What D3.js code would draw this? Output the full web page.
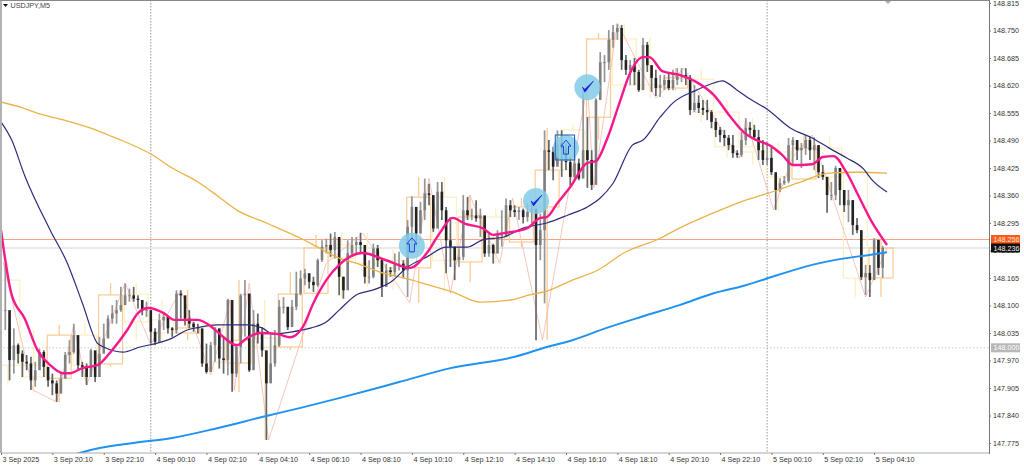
<!DOCTYPE html>
<html><head><meta charset="utf-8">
<script src="https://cdnjs.cloudflare.com/ajax/libs/d3/7.8.5/d3.min.js"></script>
<style>html,body{margin:0;background:#fff;overflow:hidden}text{font-family:"Liberation Sans",Arial,sans-serif}</style>
</head><body><div id="c"></div>
<script>
const symbolTitle="USDJPY,M5";
const priceTicks=[148.815,148.750,148.685,148.620,148.555,148.490,148.425,148.360,148.295,148.230,148.165,148.100,148.035,147.970,147.905,147.840,147.775];
const timeTickBars=[0,24,48,72,96,120,144,168,192,216,240,264,288,312,336,360,384,408];
const timeTickLabels=["3 Sep 2025","3 Sep 20:10","3 Sep 22:10","4 Sep 00:10","4 Sep 02:10","4 Sep 04:10","4 Sep 06:10","4 Sep 08:10","4 Sep 10:10","4 Sep 12:10","4 Sep 14:10","4 Sep 16:10","4 Sep 18:10","4 Sep 20:10","4 Sep 22:10","5 Sep 00:10","5 Sep 02:10","5 Sep 04:10"];
const dayBreakBars=[70,358];
// sampled M5 candles, every second bar
const candleClose=[148.089,148.089,147.971,148.006,147.986,147.967,147.963,147.923,147.947,147.990,147.955,147.923,147.916,147.892,147.927,147.983,147.990,148.030,147.959,147.955,147.931,147.994,147.931,147.986,148.022,148.069,148.081,148.089,148.101,148.124,148.124,148.116,148.113,148.089,148.089,148.038,148.014,148.065,148.073,148.046,148.042,148.128,148.124,148.069,148.057,148.049,148.046,147.963,147.943,148.006,148.046,147.975,147.971,148.113,147.939,148.002,148.124,148.128,147.947,148.057,148.034,147.994,147.916,147.963,148.006,148.097,148.097,148.049,148.097,148.128,148.164,148.176,148.156,148.148,148.207,148.239,148.243,148.231,148.262,
148.168,148.136,148.223,148.243,148.250,148.243,148.168,148.168,148.235,148.207,148.144,148.183,148.179,148.199,148.199,148.183,148.286,148.333,148.270,148.325,148.365,148.361,148.282,148.369,148.325,148.254,148.239,148.207,148.215,148.325,148.313,148.313,148.306,148.313,148.223,148.243,148.223,148.266,148.266,148.337,148.325,148.321,148.325,148.309,148.321,148.329,148.243,148.278,148.467,148.463,148.428,148.483,148.471,148.439,148.404,148.436,148.400,148.467,
148.444,148.385,148.586,148.675,148.675,148.728,148.746,148.756,148.680,148.657,148.668,148.652,148.609,148.716,148.668,148.638,148.614,148.621,148.633,148.614,148.633,148.642,148.645,148.638,148.562,148.579,148.567,148.562,148.557,148.534,148.515,148.503,148.496,148.479,148.460,148.456,148.491,148.520,148.515,148.498,148.467,148.444,148.449,148.415,148.373,148.389,148.394,148.479,148.491,148.467,148.472,148.491,148.467,148.479,148.415,148.404,148.361,148.361,148.425,148.373,148.337,148.349,148.290,148.278,148.167,148.177,148.160,148.255,148.189,148.236];
const candleHigh=[148.199,148.199,148.049,148.046,148.010,147.994,147.983,147.979,147.967,147.998,147.994,147.943,147.939,147.923,147.939,147.990,148.018,148.057,148.002,147.967,147.963,147.998,147.959,148.026,148.057,148.077,148.101,148.113,148.144,148.152,148.140,148.144,148.124,148.101,148.109,148.081,148.046,148.081,148.085,148.073,148.049,148.136,148.136,148.093,148.089,148.061,148.057,148.042,148.010,148.014,148.049,148.034,148.026,148.116,148.113,148.010,148.128,148.160,148.128,148.089,148.081,148.049,147.986,148.034,148.042,148.113,148.120,148.089,148.113,148.180,148.183,148.187,148.176,148.168,148.211,148.254,148.258,148.270,148.274,
148.223,148.168,148.254,148.262,148.262,148.272,148.231,148.207,148.246,148.243,148.211,148.199,148.191,148.223,148.227,148.207,148.302,148.358,148.317,148.345,148.400,148.388,148.341,148.392,148.392,148.333,148.309,148.239,148.235,148.361,148.357,148.329,148.349,148.329,148.309,148.270,148.246,148.278,148.325,148.353,148.349,148.337,148.333,148.329,148.341,148.345,148.302,148.317,148.514,148.491,148.475,148.514,148.514,148.483,148.451,148.455,148.447,148.609,
148.545,148.467,148.590,148.699,148.692,148.751,148.763,148.765,148.763,148.692,148.680,148.685,148.657,148.732,148.723,148.668,148.657,148.645,148.645,148.652,148.657,148.661,148.661,148.661,148.645,148.621,148.597,148.586,148.586,148.562,148.543,148.522,148.515,148.503,148.503,148.467,148.510,148.543,148.534,148.527,148.515,148.491,148.486,148.479,148.408,148.401,148.406,148.496,148.498,148.491,148.484,148.503,148.498,148.498,148.479,148.432,148.404,148.392,148.430,148.425,148.373,148.373,148.349,148.307,148.278,148.196,148.196,148.259,148.255,148.241];
const candleLow=[148.002,148.042,147.923,147.939,147.963,147.931,147.947,147.900,147.908,147.963,147.931,147.908,147.888,147.872,147.892,147.927,147.963,147.986,147.947,147.931,147.912,147.939,147.919,147.955,148.010,148.034,148.057,148.057,148.085,148.101,148.109,148.109,148.093,148.077,148.073,148.010,148.006,148.034,148.042,148.034,148.026,148.034,148.069,148.053,148.046,148.038,148.034,147.955,147.939,147.963,147.967,147.951,147.939,147.935,147.896,147.931,147.963,148.026,147.943,148.002,148.010,147.979,147.782,147.923,147.955,148.002,148.081,148.042,148.057,148.089,148.124,148.148,148.140,148.132,148.144,148.203,148.223,148.215,148.211,
148.124,148.116,148.168,148.215,148.223,148.223,148.152,148.152,148.164,148.191,148.120,148.152,148.168,148.168,148.183,148.164,148.120,148.223,148.239,148.286,148.302,148.337,148.274,148.302,148.302,148.176,148.191,148.160,148.191,148.207,148.302,148.302,148.298,148.262,148.215,148.215,148.199,148.223,148.239,148.262,148.309,148.309,148.302,148.294,148.298,148.294,148.018,148.207,148.105,148.420,148.396,148.436,148.404,148.420,148.384,148.396,148.396,148.420,
148.378,148.373,148.420,148.586,148.628,148.657,148.709,148.728,148.657,148.645,148.621,148.621,148.605,148.614,148.652,148.605,148.595,148.593,148.609,148.609,148.609,148.621,148.628,148.621,148.550,148.557,148.555,148.550,148.538,148.519,148.498,148.486,148.477,148.467,148.449,148.449,148.451,148.479,148.498,148.491,148.444,148.432,148.432,148.408,148.326,148.368,148.385,148.389,148.432,148.444,148.425,148.456,148.444,148.420,148.401,148.397,148.319,148.349,148.349,148.337,148.321,148.297,148.267,148.271,148.160,148.125,148.120,148.184,148.172,148.165];
// moving averages: bar index and price
const pinkBars=[0,5,11,17,23,29,32,38,45,52,59,64,69,76,81,92,99,104,110,115,121,129,135,141,146,152,158,169,180,191,199,205,211,217,225,230,235,246,252,255,260,266,274,278,283,289,294,300,303,309,317,325,333,341,347,353,359,365,370,379,384,389,395,401,407,414];
const pinkVals=[148.278,148.125,148.070,147.995,147.959,147.940,147.940,147.952,147.959,147.995,148.042,148.082,148.094,148.082,148.066,148.066,148.047,148.025,148.006,148.023,148.035,148.033,148.025,148.049,148.106,148.160,148.196,148.224,148.207,148.189,148.224,148.271,148.307,148.293,148.283,148.267,148.271,148.283,148.307,148.309,148.342,148.380,148.437,148.441,148.491,148.579,148.650,148.687,148.687,148.654,148.645,148.628,148.598,148.545,148.510,148.491,148.479,148.456,148.432,148.434,148.451,148.453,148.415,148.356,148.297,148.243];
const navyBars=[0,5,11,23,31,38,45,48,57,65,73,80,87,93,101,115,122,127,135,145,152,158,166,174,182,190,199,208,218,225,235,244,255,265,274,280,286,295,300,308,314,325,333,337,344,350,358,369,379,387,395,403,407,414];
const navyVals=[148.534,148.491,148.408,148.278,148.200,148.106,148.011,148.002,147.990,148.002,148.011,148.023,148.042,148.049,148.054,148.054,148.047,148.033,148.037,148.047,148.061,148.089,148.125,148.137,148.155,148.191,148.215,148.238,148.238,148.255,148.262,148.283,148.295,148.314,148.333,148.354,148.389,148.479,148.491,148.545,148.579,148.609,148.626,148.631,148.609,148.588,148.564,148.519,148.496,148.472,148.449,148.423,148.397,148.368];
const goldBars=[0,9,18,31,42,50,56,70,80,92,102,110,124,140,148,158,166,177,190,200,211,224,238,247,255,267,279,291,308,317,333,348,363,372,387,400,414];
const goldVals=[148.581,148.569,148.553,148.536,148.519,148.503,148.491,148.458,148.425,148.392,148.356,148.326,148.295,148.259,148.238,148.212,148.200,148.179,148.163,148.148,148.132,148.108,148.113,148.125,148.134,148.160,148.184,148.224,148.259,148.283,148.319,148.349,148.373,148.389,148.413,148.415,148.413];
const blueBars=[35,46,62,80,101,124,140,158,186,210,241,255,267,283,299,317,333,348,363,379,395,405,414];
const blueVals=[147.749,147.763,147.775,147.787,147.810,147.839,147.858,147.881,147.919,147.952,147.980,148.002,148.018,148.047,148.073,148.101,148.129,148.148,148.172,148.196,148.212,148.219,148.226];
// zigzag swing points
const zigBars=[1,15,26,34,40,58,70,84,98,107,109,116,125,152,169,191,200,210,219,233,239,253,274,277,288,306,319,345,348,361,370,379,404,414];
const zigVals=[148.203,147.900,147.872,148.054,147.912,148.153,148.007,148.137,147.936,148.113,147.900,148.153,147.782,148.200,148.271,148.106,148.401,148.129,148.361,148.200,148.354,148.018,148.621,148.378,148.768,148.590,148.661,148.448,148.541,148.326,148.451,148.503,148.120,148.236];
// hourly candles overlaid as outlines
const hourOpen=[148.160,147.959,147.928,148.030,147.962,148.127,148.066,148.035,148.049,147.964,148.023,148.002,148.129,148.243,148.226,148.207,148.189,148.356,148.203,148.309,148.250,148.333,148.515,148.545,148.730,148.621,148.614,148.635,148.557,148.475,148.463,148.399,148.472,148.415,148.165];
const hourClose=[147.959,147.931,148.030,147.959,148.125,148.061,148.035,148.047,147.966,148.018,148.002,148.127,148.236,148.212,148.200,148.189,148.356,148.207,148.309,148.262,148.333,148.420,148.420,148.730,148.621,148.614,148.638,148.557,148.475,148.463,148.404,148.472,148.404,148.165,148.236];
const hourHigh=[148.203,148.042,148.054,148.059,148.153,148.153,148.113,148.137,148.066,148.160,148.113,148.179,148.267,148.274,148.271,148.236,148.404,148.404,148.361,148.330,148.354,148.520,148.527,148.744,148.768,148.732,148.661,148.661,148.586,148.543,148.486,148.503,148.498,148.415,148.255];
const hourLow=[147.912,147.895,147.872,147.924,147.955,148.018,148.007,148.018,147.943,147.895,147.782,147.995,148.127,148.118,148.144,148.137,148.106,148.129,148.155,148.196,148.238,148.018,148.373,148.491,148.609,148.590,148.609,148.534,148.449,148.432,148.326,148.397,148.368,148.120,148.120];
const markerBars=[192,250,274,264];
const markerPrices=[148.241,148.347,148.616,148.472];
const markerKinds=["arrow","check","check","arrow"];
const boxBars=[259,268];
const boxPrices=[148.503,148.444];
const askPrice=148.256,bidPrice=148.236,levelPrice=148.000,lastBar=414;

const W=1024,H=466,axisX=989,bottomY=453;
const x=d3.scaleLinear().domain([0,414]).range([1,887]);
const y=d3.scaleLinear().domain([147.775,148.815]).range([443,3]);
const svg=d3.select("#c").append("svg").attr("width",W).attr("height",H).style("display","block");
svg.append("defs").append("clipPath").attr("id","plot").append("rect").attr("x",2).attr("y",1).attr("width",axisX-2).attr("height",bottomY-1);
const plot=svg.append("g").attr("clip-path","url(#plot)");

dayBreakBars.forEach(b=>plot.append("line").attr("x1",x(b)).attr("x2",x(b)).attr("y1",0).attr("y2",bottomY).attr("stroke","#999").attr("stroke-dasharray","1.5,1.5"));
plot.append("line").attr("x1",0).attr("x2",axisX).attr("y1",y(levelPrice)).attr("y2",y(levelPrice)).attr("stroke","#c8c8c8").attr("stroke-dasharray","1.5,2");
plot.append("line").attr("x1",0).attr("x2",axisX).attr("y1",y(bidPrice)).attr("y2",y(bidPrice)).attr("stroke","#e9e9e9").attr("stroke-width",2);
plot.append("line").attr("x1",0).attr("x2",axisX).attr("y1",y(askPrice)).attr("y2",y(askPrice)).attr("stroke","#f4a484");

const hourStart=k=>k*12-2.4, hourW=11.2;
const hc=(o,c)=>c>=o?"#fbcb94":"#fdefc2";
hourOpen.forEach((o,k)=>{
  const c=hourClose[k],col=hc(o,c);
  const xm=x(hourStart(k)+hourW/2);
  plot.append("line").attr("x1",xm).attr("x2",xm).attr("y1",y(hourHigh[k])).attr("y2",y(Math.max(o,c))).attr("stroke",col).attr("stroke-width",1.3);
  plot.append("line").attr("x1",xm).attr("x2",xm).attr("y1",y(Math.min(o,c))).attr("y2",y(hourLow[k])).attr("stroke",col).attr("stroke-width",1.3);
  plot.append("rect").attr("x",x(hourStart(k))).attr("width",x(hourW)-x(0)).attr("y",y(Math.max(o,c))).attr("height",Math.abs(y(o)-y(c))).attr("fill","none").attr("stroke",col).attr("stroke-width",1.2);
});

const line=(bars,vals,curve)=>d3.line().x((d,i)=>x(bars[i])).y(d=>y(d)).curve(curve)(vals);
plot.append("path").attr("d",line(zigBars,zigVals,d3.curveLinear)).attr("fill","none").attr("stroke","#f4b8ac").attr("stroke-width",.8);

const candles=plot.append("g");
candleClose.forEach((c,j)=>{
  const o=j?candleClose[j-1]:c, bx=x(j*2), bear=c<o;
  candles.append("line").attr("x1",bx).attr("x2",bx).attr("y1",y(candleHigh[j])).attr("y2",y(candleLow[j])).attr("stroke",bear?"#666":"#969696").attr("stroke-width",1.7);
  candles.append("rect").attr("x",bx-1.3).attr("width",2.6).attr("y",y(Math.max(o,c))).attr("height",Math.max(.8,Math.abs(y(o)-y(c)))).attr("fill",bear?"#222":"#808080");
});

[[blueBars,blueVals,"#2093f2",2],[goldBars,goldVals,"#e9b348",1.3],[navyBars,navyVals,"#2d2d7d",1.2],[pinkBars,pinkVals,"#f7188c",2.4]].forEach(([b,v,col,w])=>{
  plot.append("path").attr("d",line(b,v,d3.curveMonotoneX)).attr("fill","none").attr("stroke",col).attr("stroke-width",w);
});

markerBars.forEach((b,i)=>{
  const g=plot.append("g").attr("transform",`translate(${x(b)},${y(markerPrices[i])})`);
  g.append("circle").attr("r",13).attr("fill","#82cbea").attr("fill-opacity",.85);
  if(markerKinds[i]==="check") g.append("path").attr("d","M-5,0 L-2.5,5 L6,-6 L-2.5,2 Z").attr("fill","#1a1fd0").attr("stroke","#1a1fd0").attr("stroke-width",.6);
  else g.append("path").attr("d","M0,-8 L5,-2 L2.5,-2 L2.5,6 L-2.5,6 L-2.5,-2 L-5,-2 Z").attr("fill","none").attr("stroke","#1a3fe0").attr("stroke-width",1);
});
plot.append("rect").attr("x",x(boxBars[0])).attr("width",x(boxBars[1])-x(boxBars[0])).attr("y",y(boxPrices[0])).attr("height",y(boxPrices[1])-y(boxPrices[0])).attr("fill","none").attr("stroke","#2a62b8").attr("stroke-width",1.1);

svg.append("line").attr("x1",0).attr("x2",axisX).attr("y1",.5).attr("y2",.5).attr("stroke","#888").attr("stroke-width",1);
svg.append("line").attr("x1",1).attr("x2",1).attr("y1",0).attr("y2",bottomY).attr("stroke","#999").attr("stroke-width",1.5);
svg.append("line").attr("x1",1).attr("x2",axisX).attr("y1",bottomY).attr("y2",bottomY).attr("stroke","#aaa");
svg.append("path").attr("d",`M${x(lastBar)-2},1 h6 l-3,3 Z`).attr("fill","#aaa");

const ya=svg.append("g").attr("transform",`translate(${axisX},0)`).call(d3.axisRight(y).tickValues(priceTicks).tickFormat(d3.format(".3f")).tickSize(2).tickPadding(2));
ya.select(".domain").attr("stroke","#777").attr("d",`M0.5,0V${bottomY+1}`);
ya.selectAll("text").attr("font-size",7.2).attr("fill","#333");
ya.selectAll("line").attr("stroke","#777");
const xa=svg.append("g").attr("transform",`translate(0,${bottomY})`).call(d3.axisBottom(x).tickValues(timeTickBars).tickFormat((d,i)=>timeTickLabels[i]).tickSize(2).tickPadding(2));
xa.select(".domain").remove();
xa.selectAll("text").attr("font-size",7.2).attr("fill","#333").attr("text-anchor","start").attr("dx",1);
xa.selectAll("line").attr("stroke","#777");

[[askPrice,"#ff5a1e","#ffe6c8"],[bidPrice,"#111","#eee"],[levelPrice,"#b8b8b8","#fff"]].forEach(([v,bg,fg])=>{
  const g=svg.append("g").attr("transform",`translate(${axisX+2},${y(v)})`);
  g.append("rect").attr("x",0).attr("y",-4.5).attr("width",29).attr("height",9).attr("fill",bg);
  g.append("text").attr("x",2.5).attr("y",2.6).attr("font-size",7.2).attr("fill",fg).text(d3.format(".3f")(v));
});

svg.append("path").attr("d","M3,4 L8,4 L5.5,7 Z").attr("fill","#111");
svg.append("text").attr("x",10.5).attr("y",8).attr("font-size",7.2).attr("fill","#444").text(symbolTitle);
</script></body></html>
